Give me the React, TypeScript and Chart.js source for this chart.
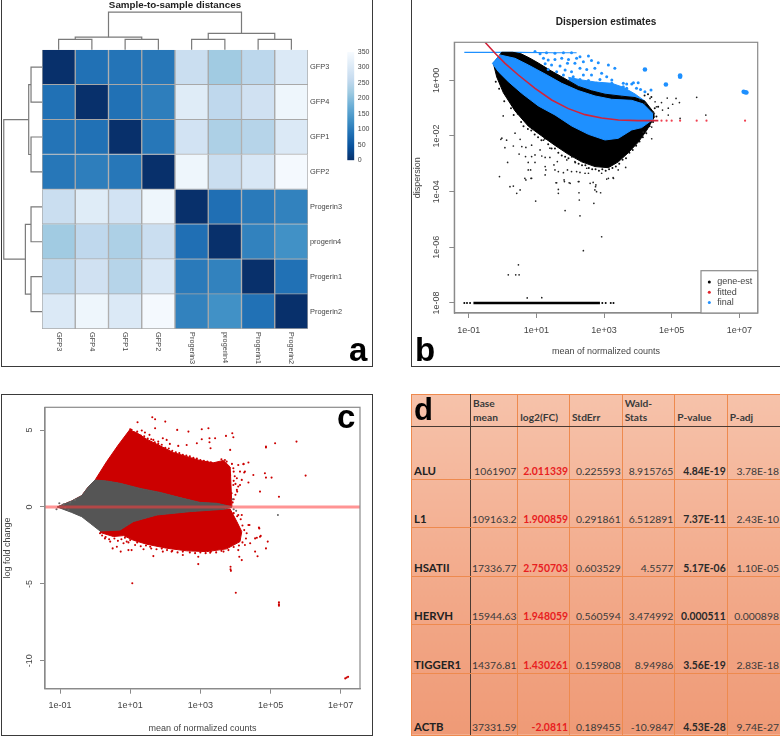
import React, { useEffect, useRef } from "react";
import { Chart, registerables } from "chart.js";

Chart.register(...registerables);

// ---------- panel a: sample distances ----------
const sampleLabels = ["GFP3", "GFP4", "GFP1", "GFP2", "Progerin3", "progerin4", "Progerin1", "Progerin2"];
const distGFP3 = [0, 88, 92, 95, 270, 222, 252, 300];
const distGFP4 = [88, 0, 88, 105, 308, 255, 280, 335];
const distGFP1 = [92, 88, 0, 95, 285, 235, 245, 300];
const distGFP2 = [95, 105, 95, 0, 335, 270, 295, 345];
const distProgerin3 = [270, 308, 285, 335, 0, 85, 100, 110];
const distProgerin4 = [222, 255, 235, 270, 85, 0, 110, 130];
const distProgerin1 = [252, 280, 245, 295, 100, 110, 0, 88];
const distProgerin2 = [300, 335, 300, 345, 110, 130, 88, 0];
const distRows = [distGFP3, distGFP4, distGFP1, distGFP2, distProgerin3, distProgerin4, distProgerin1, distProgerin2];
const colorbarTicks = 50;
const colorbarMax = 350;
const heatPalette = ["#08306B", "#08519C", "#2171B5", "#4292C6", "#6BAED6", "#9ECAE1", "#C6DBEF", "#DEEBF7", "#F7FBFF"];
// merges: first leaf pos, second leaf pos, join height, height of first branch, height of second branch
const topMerges = [
  [0.5, 1.5, -0.3, 0, 0], [2.5, 3.5, -0.3, 0, 0], [1, 3, -0.36, -0.3, -0.3],
  [4.5, 5.5, -0.3, 0, 0], [6.5, 7.5, -0.3, 0, 0], [5, 7, -0.47, -0.3, -0.3], [2, 6, -1.08, -0.36, -0.47],
];
const leftMerges = [
  [0.5, 1.5, -0.33, 0, 0], [2.5, 3.5, -0.33, 0, 0], [1, 3, -0.4, -0.33, -0.33],
  [4.5, 5.5, -0.33, 0, 0], [6.5, 7.5, -0.33, 0, 0], [5, 7, -0.5, -0.33, -0.33], [2, 6, -1.15, -0.4, -0.5],
];

// ---------- panel b: dispersion estimates, [log10 mean, log10 dispersion] ----------
const dispBlackUpper = [[-0.271,0.61],[-0.025,1.006],[0.3,1.006],[0.55,0.95],[0.8,0.8],[1.06,0.62],[1.45,0.33],[1.847,0.06],[2.241,-0.22],[2.635,-0.38],[3.03,-0.5],[3.522,-0.57],[3.916,-0.62],[4.212,-0.75],[4.5,-1.2]];
const dispBlackLower = [[-0.271,0.61],[-0.172,0.12],[0.025,-0.45],[0.369,-1.1],[0.764,-1.65],[1.158,-2.0],[1.552,-2.34],[1.946,-2.66],[2.34,-2.93],[2.734,-3.1],[3.128,-3.14],[3.424,-2.93],[3.719,-2.6],[4.015,-2.22],[4.261,-1.8],[4.5,-1.3]];
const dispBlueUpper = [[-0.3,0.61],[-0.074,0.91],[0.369,0.79],[0.764,0.55],[1.256,0.228],[1.749,-0.108],[2.241,-0.371],[2.734,-0.563],[3.227,-0.683],[3.818,-0.72],[4.163,-0.85],[4.45,-1.2]];
const dispBlueLower = [[-0.3,0.61],[-0.123,0.31],[0.172,-0.048],[0.567,-0.467],[1.059,-0.922],[1.552,-1.246],[2.044,-1.641],[2.537,-1.94],[3.03,-2.144],[3.424,-2.084],[3.818,-1.784],[4.113,-1.7],[4.45,-1.4]];
const dispBluePatchTop = [[1.946,0.108],[2.34,0.012],[2.734,-0.06],[3.227,-0.108],[3.571,-0.251],[3.916,-0.491],[4.212,-0.75]];
const dispBlueTopRow = [[-1.13,1.0],[0.5,1.0],[1.5,0.99],[2.19,0.99]];
const dispFitted = [[-0.517,1.365],[-0.22,0.97],[0.074,0.61],[0.468,0.19],[0.961,-0.287],[1.453,-0.707],[1.946,-1.018],[2.438,-1.234],[2.931,-1.353],[3.424,-1.425],[4.015,-1.449],[4.606,-1.449]];
const dispFittedDots = [[4.7,-1.449],[4.85,-1.449],[5.0,-1.449],[5.25,-1.449],[5.74,-1.449],[6.03,-1.449],[7.17,-1.449]];
const dispZeroRow = [[-0.86,-8],[2.88,-8]];
const dispZeroDots = [[-1.13,-8],[-1.05,-8],[-0.96,-8],[2.95,-8],[3.05,-8],[3.2,-8],[3.28,-8]];
const dispBlackDots = [[-0.09,-3.46],[0.22,-3.82],[0.32,-3.8],[0.42,-4.06],[0.52,-3.94],[0.98,-4.34],[1.85,-4.68],[2.29,-4.87],[2.27,-4.3],[2.7,-4.42],[2.93,-5.62],[2.39,-6.12],[0.47,-6.63],[0.17,-6.99],[0.39,-6.99],[0.49,-6.99],[0.73,-7.82],[1.16,-7.81],[0.02,-1.28],[-0.02,-2.08],[0.07,-2.42],[0.15,-2.95],[0.37,-1.9],[0.57,-2.38],[0.86,-2.74],[1.26,-3.1],[0.76,-3.22],[0.66,-3.52],[0.86,-3.52],[1.26,-3.4],[1.6,-3.68],[1.83,-3.64],[2.0,-3.7],[2.24,-3.64],[2.59,-3.7],[2.75,-3.82],[1.65,-4.06],[2.26,-4.04],[2.78,-4.0],[1.55,-3.22],[2.04,-3.28],[2.44,-3.34],[3.28,-3.52],[3.13,-3.52],[2.93,-3.34],[3.42,-3.22],[0.69,-3.58],[0.84,-3.52],[1.58,-3.68],[1.82,-3.58],[1.97,-3.68],[2.26,-3.64],[1.65,-3.92],[2.68,-3.67],[2.76,-3.76],[2.73,-3.94],[2.9,-4.04],[1.28,-3.22],[0.83,-3.22],[0.76,-2.95],[0.96,-2.95],[0.49,-2.65],[0.68,-2.74],[0.96,-2.68],[1.16,-2.72],[1.26,-2.77],[1.4,-2.77],[0.12,-2.15],[-0.05,-2.12],[0.32,-2.36],[0.52,-2.12],[0.69,-2.41],[0.86,-2.33],[1.11,-2.5],[1.52,-3.04],[1.65,-3.28],[1.8,-3.32],[1.92,-3.22],[2.19,-3.28],[2.29,-3.31],[2.54,-3.34],[2.49,-3.16],[3.08,-3.55],[3.27,-3.5],[3.64,-3.13],[1.62,-2.92],[1.9,-2.86],[2.14,-2.92],[1.4,-2.44],[1.21,-2.15],[4.87,-0.64],[5.13,-0.65],[5.74,-0.61],[6.01,-1.25],[5.25,-1.37],[4.51,-0.77],[4.7,-0.8],[4.36,-0.65],[5.23,-0.8],[5.03,-0.86],[4.9,-1.0],[4.73,-1.07],[4.55,-0.95],[4.46,-1.14],[4.9,-1.25],[4.41,-2.1],[4.21,-0.83],[4.31,-1.2],[4.41,-1.68],[4.16,-1.86],[4.06,-0.7],[4.26,-1.0]];
const dispBlackFringe = [[-0.2,-0.05],[-0.1,-0.3],[0.05,-0.75],[0.15,-0.6],[0.25,-1.0],[0.33,-1.25],[0.45,-1.2],[0.55,-1.5],[0.62,-1.65],[0.75,-1.75],[0.85,-1.8],[0.95,-1.95],[1.05,-2.05],[1.15,-2.15],[1.25,-2.1],[1.35,-2.3],[1.45,-2.45],[1.55,-2.45],[1.65,-2.6],[1.75,-2.7],[1.85,-2.75],[1.95,-2.8],[2.05,-2.75],[2.15,-2.95],[2.25,-3.0],[2.35,-3.05],[2.45,-3.05],[2.55,-3.15],[2.65,-3.2],[2.75,-3.2],[2.85,-3.25],[2.95,-3.2],[3.05,-3.25],[3.15,-3.2],[3.25,-3.15],[3.35,-3.1],[3.45,-3.0],[3.55,-2.85],[3.65,-2.8],[3.75,-2.6],[3.85,-2.5],[3.95,-2.35],[4.05,-2.2],[4.15,-2.05],[4.25,-1.9],[4.35,-1.65],[4.45,-1.5],[4.55,-1.3],[4.5,-1.0],[4.6,-0.95],[4.4,-0.6],[4.3,-0.5],[4.2,-0.55]];
const dispBlueDots = [[0.96,1.03],[1.11,0.95],[1.3,0.99],[1.55,0.97],[1.8,0.99],[2.04,0.99],[1.21,0.79],[1.35,0.73],[1.55,0.75],[1.75,0.79],[1.95,0.75],[2.19,0.79],[2.29,0.85],[2.54,0.87],[1.26,0.59],[1.45,0.55],[1.7,0.51],[1.92,0.61],[2.14,0.61],[2.39,0.67],[2.63,0.71],[2.83,0.63],[3.13,0.55],[3.32,0.43],[1.35,0.39],[1.6,0.31],[1.85,0.37],[2.04,0.31],[2.29,0.43],[2.49,0.39],[2.73,0.43],[2.93,0.25],[1.8,0.19],[2.09,0.13],[2.39,0.19],[2.63,0.19],[2.88,0.03],[3.08,0.13],[3.23,0.01],[2.29,0.03],[2.54,-0.01],[2.78,-0.11],[3.03,-0.17],[3.23,-0.11],[3.57,-0.11],[3.87,-0.09],[3.67,-0.29],[3.96,-0.29],[3.42,-0.35],[3.27,-0.29],[4.01,-0.09],[3.67,-0.13],[3.57,-0.23],[3.82,-0.13],[4.08,-0.33],[4.21,-0.41],[4.39,-0.35],[3.62,-0.41],[3.75,-0.47]];
const dispBlueLarge = [[4.21,0.39],[5.25,0.13],[5.25,0.17],[4.83,-0.15],[7.17,-0.43],[7.13,-0.41],[7.21,-0.44]];
const dispLegendNames = ["gene-est", "fitted", "final"];
const dispLegendColors = ["#000000", "#e2232a", "#1e90ff"];
const decadeTicksX = [-1, 1, 3, 5, 7];
const decadeTicksDisp = [0, -2, -4, -6, -8];

// ---------- panel c: MA plot, [log10 mean, log fold change] ----------
const maRedUpperTop = [[0,1.755],[0.33,2.95],[0.66,4.03],[0.98,5.0],[1.19,4.82],[1.47,4.41],[1.85,3.98],[2.23,3.54],[2.61,3.28],[2.99,3.02],[3.37,2.87],[3.66,3.03],[3.85,2.6],[3.9,0.02]];
const maGrayTop = [[-1.08,0],[-0.67,0.39],[-0.38,0.74],[-0.19,1.32],[0,1.755],[0.33,1.69],[0.71,1.54],[1.28,1.21],[1.85,0.95],[2.42,0.61],[2.99,0.3],[3.47,0.24],[3.9,0.02]];
const maGrayBottom = [[-1.08,0],[-0.67,-0.35],[-0.38,-0.63],[-0.14,-1.06],[0.14,-1.56],[0.71,-1.5],[1.09,-0.95],[1.76,-0.52],[2.71,-0.3],[3.66,-0.15],[3.9,-0.02]];
const maRedLowerTop = [[0.14,-1.56],[0.71,-1.5],[1.09,-0.95],[1.76,-0.52],[2.71,-0.3],[3.66,-0.15],[3.85,-0.13],[4.04,-0.95],[4.18,-1.6]];
const maRedLowerBottom = [[0.14,-1.65],[0.52,-1.92],[0.81,-1.86],[1.09,-2.16],[1.47,-2.42],[2.04,-2.68],[2.61,-2.85],[3.18,-2.9],[3.75,-2.72],[4.13,-2.25],[4.18,-1.6]];
const maRedDots = [[1.21,5.51],[1.63,5.83],[1.71,5.7],[2.0,5.55],[1.71,5.12],[2.34,5.01],[2.66,4.9],[3.04,5.05],[3.23,5.12],[3.73,4.62],[3.91,4.79],[3.94,4.53],[3.04,4.4],[3.26,4.47],[3.42,4.47],[2.61,4.03],[2.9,4.14],[3.26,4.21],[3.29,3.82],[3.85,3.71],[2.04,4.36],[1.93,4.47],[1.33,4.97],[1.42,4.84],[1.55,4.69],[1.66,4.36],[1.8,4.25],[2.13,4.1],[2.37,3.97],[1.04,5.01],[1.09,4.75],[4.08,2.73],[4.23,2.8],[4.37,2.89],[3.94,2.52],[4.13,2.3],[4.27,2.3],[4.04,1.87],[4.18,1.76],[4.37,1.59],[3.94,1.43],[4.08,1.33],[3.89,0.89],[4.04,1.11],[3.75,2.95],[3.85,2.08],[4.87,3.93],[4.87,3.87],[5.13,4.14],[5.74,4.25],[4.84,2.19],[4.87,1.91],[5.03,1.91],[4.7,1.0],[5.24,0.67],[6.0,2.04],[4.51,2.08],[4.23,2.78],[4.25,2.24],[4.13,1.43],[4.67,-1.34],[4.61,-2.0],[4.72,-1.88],[4.4,-1.17],[4.08,-0.52],[1.06,-4.96],[4.01,-5.57],[2.94,-3.71],[3.86,-3.88],[3.86,-4.05],[3.87,-4.15],[4.18,-3.45],[4.11,-3.23],[4.56,-2.9],[4.63,-3.2],[4.87,-2.69],[4.68,-1.39],[4.7,-1.93],[4.92,-2.25],[4.56,-2.04],[4.37,-1.17],[4.32,-1.71],[4.42,-2.36],[4.27,-2.47],[4.18,-0.52],[4.08,-2.8],[0.28,-2.04],[0.5,-2.69],[0.73,-2.9],[0.95,-2.8],[1.04,-2.8],[1.66,-3.19],[1.93,-2.9],[2.18,-2.9],[2.5,-3.12],[2.94,-3.23],[3.28,-2.97],[3.66,-2.9],[0.14,-1.71],[0.43,-2.25],[0.62,-2.58],[0.81,-2.36],[1.14,-2.47],[1.38,-2.75],[1.57,-2.58],[0.9,-2.25],[5.24,-6.2],[5.24,-6.33],[5.24,-6.42],[7.13,-11.14],[7.17,-11.09],[7.21,-11.04]];
const maRedFringe = [[1.0,5.05],[1.1,4.85],[1.2,4.9],[1.3,4.65],[1.4,4.6],[1.5,4.45],[1.6,4.4],[1.7,4.2],[1.8,4.1],[1.9,4.05],[2.0,3.85],[2.1,3.8],[2.2,3.65],[2.3,3.55],[2.4,3.5],[2.5,3.4],[2.6,3.35],[2.7,3.3],[2.8,3.2],[2.9,3.15],[3.0,3.05],[3.1,3.0],[3.2,2.95],[3.3,2.9],[3.4,2.85],[3.5,2.75],[3.6,3.1],[3.7,3.05],[3.9,2.8],[3.95,2.3],[3.98,2.0],[3.95,1.7],[4.0,1.5],[4.05,1.0],[4.0,0.8],[3.95,0.5],[3.92,0.3],[0.2,-1.85],[0.3,-1.95],[0.4,-2.1],[0.55,-2.05],[0.65,-2.2],[0.75,-2.1],[0.85,-2.0],[0.95,-2.3],[1.0,-2.15],[1.2,-2.3],[1.3,-2.55],[1.45,-2.5],[1.6,-2.7],[1.75,-2.75],[1.9,-2.7],[2.05,-2.8],[2.2,-2.85],[2.35,-2.95],[2.5,-2.9],[2.7,-2.95],[2.85,-3.0],[3.0,-2.95],[3.15,-3.0],[3.3,-2.9],[3.45,-2.95],[3.6,-2.85],[3.8,-2.8],[3.95,-2.6],[4.1,-2.5],[4.2,-2.3],[4.3,-2.05],[4.25,-1.5],[4.2,-1.2],[4.15,-0.8],[4.05,-0.6],[3.95,-0.4]];
const maGrayDots = [[-1.1,-0.15],[-1.02,0.24],[-0.9,0.17],[-0.76,-0.2],[-0.71,0.3],[-0.85,-0.05],[-0.57,0.46],[5.21,-0.52],[3.95,-0.15],[4.02,-0.25],[3.92,0.5]];
const maZeroLine = [[-1.43,0],[7.55,0]];
const maTicksY = [5, 0, -5, -10];

// ---------- panel d: table ----------
const tableHeader = ["", "Base mean", "log2(FC)", "StdErr", "Wald-Stats", "P-value", "P-adj"];
const geneNames = ["ALU", "L1", "HSATII", "HERVH", "TIGGER1", "ACTB"];
const baseMeans = ["1061907", "109163.2", "17336.77", "15944.63", "14376.81", "37331.59"];
const log2FC = ["2.011339", "1.900859", "2.750703", "1.948059", "1.430261", "-2.0811"];
const stdErrs = ["0.225593", "0.291861", "0.603529", "0.560594", "0.159808", "0.189455"];
const waldStats = ["8.915765", "6.512891", "4.5577", "3.474992", "8.94986", "-10.9847"];
const pValues = ["4.84E-19", "7.37E-11", "5.17E-06", "0.000511", "3.56E-19", "4.53E-28"];
const pAdj = ["3.78E-18", "2.43E-10", "1.10E-05", "0.000898", "2.83E-18", "9.74E-27"];

const SANS = "'Liberation Sans', Arial, sans-serif";
const AXIS = "#8a8a8a";
const TEXT = "#444444";
const pts = (a: number[][]) => a.map(([x, y]) => ({ x, y }));

function heatColor(v: number) {
  const t = (Math.max(0, Math.min(colorbarMax, v)) / colorbarMax) * (heatPalette.length - 1);
  const i = Math.min(heatPalette.length - 2, Math.floor(t));
  const f = t - i;
  const h = (s: string) => [1, 3, 5].map((k) => parseInt(s.slice(k, k + 2), 16));
  const a = h(heatPalette[i]);
  const b = h(heatPalette[i + 1]);
  return `rgb(${a.map((c, k) => Math.round(c + (b[k] - c) * f)).join(",")})`;
}

const framePlugin = {
  id: "frameBox",
  afterDatasetsDraw(chart: any) {
    const { ctx, chartArea: c } = chart;
    ctx.save();
    ctx.strokeStyle = AXIS;
    ctx.lineWidth = 1.2;
    ctx.strokeRect(c.left, c.top, c.right - c.left, c.bottom - c.top);
    ctx.restore();
  },
};

const rotatedXLabels = {
  id: "rotatedXLabels",
  afterDraw(chart: any) {
    const { ctx, scales } = chart;
    const s = scales.x;
    ctx.save();
    ctx.font = `7.4px ${SANS}`;
    ctx.fillStyle = TEXT;
    ctx.textBaseline = "middle";
    ctx.textAlign = "left";
    s.ticks.forEach((t: any, i: number) => {
      ctx.save();
      ctx.translate(s.getPixelForValue(t.value), chart.chartArea.bottom + 3);
      ctx.rotate(Math.PI / 2);
      ctx.fillText(sampleLabels[i], 0, 0);
      ctx.restore();
    });
    ctx.restore();
  },
};

const insetLegend = {
  id: "insetLegend",
  afterDraw(chart: any) {
    const { ctx, chartArea: c } = chart;
    const w = 56.7, h = 42.3;
    const x = c.right - w, y = c.bottom - h;
    ctx.save();
    ctx.fillStyle = "#fff";
    ctx.fillRect(x, y, w, h);
    ctx.strokeStyle = AXIS;
    ctx.lineWidth = 1.2;
    ctx.strokeRect(x, y, w, h);
    ctx.font = `9px ${SANS}`;
    ctx.textBaseline = "middle";
    dispLegendNames.forEach((name, i) => {
      const yy = y + 11.3 + i * 10.2;
      ctx.fillStyle = dispLegendColors[i];
      ctx.beginPath();
      ctx.arc(x + 8.3, yy, 1.5, 0, Math.PI * 2);
      ctx.fill();
      ctx.fillStyle = TEXT;
      ctx.fillText(name, x + 16.3, yy);
    });
    ctx.restore();
  },
};

const rScale = (opts: any) => ({
  type: "linear",
  border: { display: true, color: AXIS, width: 1.2 },
  grid: { drawOnChartArea: false, drawTicks: true, color: AXIS, tickLength: 5, tickWidth: 1 },
  ...opts,
});
const tickFont = { family: SANS, size: 9 };
const expLabel = (v: number) => `1e${v < 0 ? "-" : "+"}${String(Math.abs(v)).padStart(2, "0")}`;

function fillBand(data: number[][], target: number, color: string, order: number) {
  return { type: "line", data: pts(data), parsing: true, borderColor: color, backgroundColor: color, borderWidth: 1, pointRadius: 0, tension: 0, fill: { target }, order };
}
function edgeLine(data: number[][], color: string, order: number, width = 1) {
  return { type: "line", data: pts(data), borderColor: color, backgroundColor: color, borderWidth: width, pointRadius: 0, tension: 0, fill: false, order };
}
function dots(data: number[][], color: string, radius: number, order: number) {
  return { type: "line", data: pts(data), showLine: false, borderColor: color, backgroundColor: color, borderWidth: 0, pointRadius: radius, pointBorderWidth: 0, order };
}

function useChart(make: () => any) {
  const ref = useRef<HTMLCanvasElement>(null);
  useEffect(() => {
    const chart = new Chart(ref.current as HTMLCanvasElement, make());
    return () => chart.destroy();
  }, []);
  return ref;
}

function heatmapConfig() {
  const bars = distRows.map((row, r) => ({
    type: "bar",
    data: row.map((_, c) => ({ x: c + 0.5, y: [r, r + 1] })),
    backgroundColor: row.map(heatColor),
    borderColor: "#a8a8a8",
    borderWidth: 1,
    barPercentage: 1,
    categoryPercentage: 1,
    grouped: false,
    order: 2,
  }));
  const treeStyle = { type: "line", borderColor: "#7a7a7a", borderWidth: 1.2, pointRadius: 0, tension: 0, clip: false, fill: false, order: 1 };
  const top = topMerges.map(([a, b, h, ha, hb]) => ({
    ...treeStyle,
    data: [{ x: a, y: ha }, { x: a, y: h }, { x: b, y: h }, { x: b, y: hb }],
  }));
  const left = leftMerges.map(([a, b, h, ha, hb]) => ({
    ...treeStyle,
    data: [{ x: ha, y: a }, { x: h, y: a }, { x: h, y: b }, { x: hb, y: b }],
  }));
  return {
    type: "bar",
    data: { datasets: [...bars, ...top, ...left] },
    plugins: [rotatedXLabels],
    options: {
      animation: false,
      responsive: false,
      layout: { padding: { left: 40, top: 0, right: 0, bottom: 0 } },
      plugins: {
        legend: { display: false },
        tooltip: { enabled: false },
        title: {
          display: true, text: "Sample-to-sample distances", fullSize: false, color: "#222",
          font: { family: SANS, size: 9.8, weight: "bold" }, padding: { top: -1, bottom: 39 },
        },
      },
      scales: {
        x: {
          type: "linear", min: 0, max: 8, position: "bottom", offset: false,
          grid: { display: false, offset: false }, border: { display: false },
          afterBuildTicks: (s: any) => { s.ticks = sampleLabels.map((_, i) => ({ value: i + 0.5 })); },
          ticks: { display: false },
          afterFit: (s: any) => { s.height = 37; },
        },
        y: {
          type: "linear", min: 0, max: 8, reverse: true, position: "right",
          grid: { display: false, drawTicks: false }, border: { display: false },
          afterBuildTicks: (s: any) => { s.ticks = sampleLabels.map((_, i) => ({ value: i + 0.5 })); },
          ticks: {
            autoSkip: false, padding: 2, color: TEXT, font: { family: SANS, size: 7.4 },
            callback: (v: number) => sampleLabels[Math.floor(v)],
          },
          afterFit: (s: any) => { s.width = 64; },
        },
      },
    },
  };
}

function colorbarConfig() {
  return {
    type: "bar",
    data: {
      labels: ["distance"],
      datasets: [{
        data: [[0, colorbarMax]],
        barPercentage: 1,
        categoryPercentage: 1,
        backgroundColor: (ctx: any) => {
          const { chart } = ctx;
          if (!chart.chartArea) return heatPalette[4];
          const g = chart.ctx.createLinearGradient(0, chart.chartArea.bottom, 0, chart.chartArea.top);
          heatPalette.forEach((c, i) => g.addColorStop(i / (heatPalette.length - 1), c));
          return g;
        },
      }],
    },
    options: {
      animation: false,
      responsive: false,
      layout: { padding: { left: 7.3, top: 8, bottom: 7.5, right: 0 } },
      plugins: { legend: { display: false }, tooltip: { enabled: false } },
      scales: {
        x: { display: false },
        y: {
          position: "right", min: 0, max: colorbarMax,
          grid: { display: false, drawTicks: false }, border: { display: false },
          ticks: { stepSize: colorbarTicks, padding: 3.5, color: TEXT, font: { family: SANS, size: 7 } },
          afterFit: (s: any) => { s.width = 17.7; },
        },
      },
    },
  };
}

function dispersionConfig() {
  // dataset indices are used as fill targets
  const datasets = [
    edgeLine(dispBlackLower, "#000", 9),            // 0
    fillBand(dispBlackUpper, 0, "#000", 8),         // 1
    dots(dispBlackDots, "#222", 0.85, 7),           // 2
    edgeLine(dispZeroRow, "#000", 7, 2.4),          // 3
    dots(dispZeroDots, "#000", 1, 7),               // 4
    edgeLine(dispBlueTopRow, "#1e90ff", 8.5, 1.2),  // 5
    fillBand(dispBluePatchTop, 1, "#1e90ff", 9.5),  // 6
    edgeLine(dispBlueLower, "#1e90ff", 6),          // 7
    fillBand(dispBlueUpper, 7, "#1e90ff", 5),       // 8
    dots(dispBlueDots, "#1e90ff", 1.5, 4),          // 9
    dots(dispBlueLarge, "#1e90ff", 2.3, 4),         // 10
    edgeLine(dispFitted, "#d2233a", 3, 1.6),        // 11
    dots(dispFittedDots, "#f04050", 1.1, 3),        // 12
    dots(dispBlackFringe, "#111", 1, 8),            // 13
  ];
  return {
    type: "line",
    data: { datasets },
    plugins: [framePlugin, insetLegend],
    options: {
      animation: false,
      responsive: false,
      layout: { padding: { left: 0, top: 0, right: 22.3, bottom: 0 } },
      plugins: {
        legend: { display: false },
        tooltip: { enabled: false },
        title: {
          display: true, text: "Dispersion estimates", fullSize: false, color: "#222",
          font: { family: SANS, size: 10, weight: "bold" }, padding: { top: 16, bottom: 14.3 },
        },
      },
      scales: {
        x: rScale({
          min: -1.426, max: 7.544,
          afterBuildTicks: (s: any) => { s.ticks = decadeTicksX.map((value) => ({ value })); },
          ticks: { autoSkip: false, maxRotation: 0, padding: 7, color: TEXT, font: tickFont, callback: expLabel },
          title: { display: true, text: "mean of normalized counts", color: TEXT, font: tickFont, padding: { top: 0, bottom: 9 } },
          afterFit: (s: any) => { s.height = 53; },
        }),
        y: rScale({
          min: -8.36, max: 1.365,
          afterBuildTicks: (s: any) => { s.ticks = decadeTicksDisp.map((value) => ({ value })); },
          ticks: { autoSkip: false, minRotation: 90, maxRotation: 90, crossAlign: "center", padding: 0, color: TEXT, font: tickFont, callback: expLabel },
          title: { display: true, text: "dispersion", color: TEXT, font: tickFont, padding: { top: 0, bottom: 0 } },
          afterFit: (s: any) => { s.width = 42.3; },
        }),
      },
    },
  };
}

function maConfig() {
  const datasets = [
    edgeLine(maGrayTop, "#cc0000", 9),              // 0
    fillBand(maRedUpperTop, 0, "#cc0000", 8),       // 1
    edgeLine(maRedLowerTop, "#cc0000", 9),          // 2
    fillBand(maRedLowerBottom, 2, "#cc0000", 8),    // 3
    dots(maRedDots, "#cc0000", 1.05, 7),            // 4
    edgeLine(maGrayBottom, "#555555", 6),           // 5
    fillBand(maGrayTop, 5, "#555555", 5),           // 6
    dots(maGrayDots, "#666666", 1.05, 4),           // 7
    edgeLine(maZeroLine, "rgba(255,60,60,0.55)", 3, 2.8), // 8
    dots(maRedFringe, "#cc0000", 1.05, 7),          // 9
  ];
  return {
    type: "line",
    data: { datasets },
    plugins: [framePlugin],
    options: {
      animation: false,
      responsive: false,
      layout: { padding: { left: 0, top: 12.3, right: 12, bottom: 0 } },
      plugins: { legend: { display: false }, tooltip: { enabled: false } },
      scales: {
        x: rScale({
          min: -1.428, max: 7.55,
          afterBuildTicks: (s: any) => { s.ticks = decadeTicksX.map((value) => ({ value })); },
          ticks: { autoSkip: false, maxRotation: 0, padding: 6, color: TEXT, font: tickFont, callback: expLabel },
          title: { display: true, text: "mean of normalized counts", color: TEXT, font: tickFont, padding: { top: 0, bottom: 1 } },
          afterFit: (s: any) => { s.height = 46.3; },
        }),
        y: rScale({
          min: -11.81, max: 6.48,
          afterBuildTicks: (s: any) => { s.ticks = maTicksY.map((value) => ({ value })); },
          ticks: { autoSkip: false, minRotation: 90, maxRotation: 90, crossAlign: "center", padding: 3.5, color: TEXT, font: tickFont },
          title: { display: true, text: "log fold change", color: TEXT, font: tickFont, padding: { top: 0, bottom: 0 } },
          afterFit: (s: any) => { s.width = 43; },
        }),
      },
    },
  };
}

const abs = (left: number, top: number, w: number, h: number): React.CSSProperties => ({ position: "absolute", left, top, width: w, height: h });
const letter = (ch: string, left: number, baseline: number, size = 33) => (
  <div style={{ position: "absolute", left, top: baseline - size * 0.85 - 1.5, fontFamily: SANS, fontWeight: 700, fontSize: size, lineHeight: 1, color: "#000" }}>{ch}</div>
);

const colWidths = [59, 47.3, 51.7, 52.7, 52.6, 52.4, 53.3];
const rowHeights = [53.3, 48, 48.7, 48.3, 49, 61.7];

function ResultsTable() {
  const cell = (extra: React.CSSProperties = {}): React.CSSProperties => ({
    border: "1px solid #ee8a4e", padding: "0 1px 2px 1px", verticalAlign: "bottom", textAlign: "right",
    fontFamily: "Lato, sans-serif", fontSize: 10.4, color: "#3a3a3a", whiteSpace: "nowrap", overflow: "hidden", ...extra,
  });
  const head = cell({ textAlign: "left", fontWeight: 700, fontSize: 10.2, whiteSpace: "normal", lineHeight: "14px", paddingLeft: 2, borderBottom: "1.5px solid #4a3a32" });
  const headText = (h: string) => (h === "Wald-Stats" ? <>Wald-<br />Stats</> : h);
  return (
    <table style={{ ...abs(411, 394, 369, 341), borderCollapse: "collapse", tableLayout: "fixed", background: "linear-gradient(180deg,#f6c2aa 0%,#f2a888 60%,#ef9a76 100%)", borderTop: "1.5px solid #555" }}>
      <colgroup>{colWidths.map((w, i) => <col key={i} style={{ width: w }} />)}</colgroup>
      <tbody>
        <tr style={{ height: 32 }}>
          {tableHeader.map((h, i) => <td key={i} style={i === 0 ? { ...head, borderRight: "1.5px solid #4a3a32" } : head}>{headText(h)}</td>)}
        </tr>
        {geneNames.map((g, r) => (
          <tr key={g} style={{ height: rowHeights[r] }}>
            <td style={cell({ textAlign: "left", fontWeight: 700, fontSize: 11.4, color: "#222", paddingLeft: 2, borderRight: "1.5px solid #4a3a32" })}>{g}</td>
            <td style={cell()}>{baseMeans[r]}</td>
            <td style={cell({ color: "#e8201f", fontWeight: 700 })}>{log2FC[r]}</td>
            <td style={cell()}>{stdErrs[r]}</td>
            <td style={cell()}>{waldStats[r]}</td>
            <td style={cell({ fontWeight: 700, color: "#2a2a2a" })}>{pValues[r]}</td>
            <td style={cell()}>{pAdj[r]}</td>
          </tr>
        ))}
      </tbody>
    </table>
  );
}

export default function App() {
  const heatRef = useChart(heatmapConfig);
  const barRef = useChart(colorbarConfig);
  const dispRef = useChart(dispersionConfig);
  const maRef = useChart(maConfig);
  const frame = "1.4px solid #3a3a3a";
  return (
    <div style={{ position: "fixed", left: 0, top: 0, width: 780, height: 739, overflow: "hidden", background: "#fff", filter: "blur(0.45px)" }}>
      <div style={{ ...abs(1, -4, 372, 371), boxSizing: "border-box", border: frame }} />
      <div style={{ ...abs(411, -4, 380, 371), boxSizing: "border-box", border: frame }} />
      <div style={{ ...abs(1, 394, 372, 342), boxSizing: "border-box", border: frame }} />
      <canvas ref={heatRef} width={370} height={366} style={abs(2, 0, 370, 366)} />
      <canvas ref={barRef} width={32} height={124} style={abs(340, 44, 32, 124)} />
      <canvas ref={dispRef} width={368} height={366} style={abs(412, 0, 368, 366)} />
      <canvas ref={maRef} width={370} height={340} style={abs(2, 395, 370, 340)} />
      <ResultsTable />
      {letter("a", 349, 362.7)}
      {letter("b", 415, 362.7)}
      {letter("c", 337, 430)}
      {letter("d", 414, 421.7, 31)}
    </div>
  );
}
